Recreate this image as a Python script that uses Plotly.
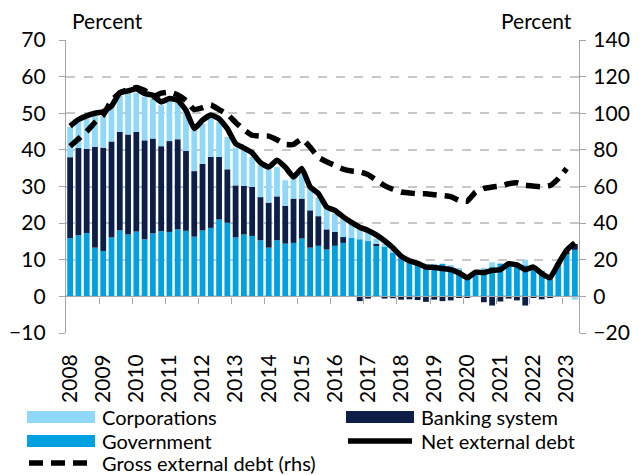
import plotly.graph_objects as go

# ---------------- data (quarterly, 2008Q1 .. 2023Q2) ----------------
quarters = list(range(62))
year_ticks = list(range(0, 62, 4))
year_labels = [str(y) for y in range(2008, 2024)]

government = [15.9, 16.7, 17.3, 13.3, 12.4, 16.1, 18.0, 16.9, 17.7, 15.6, 17.2, 17.8, 17.6, 18.3, 17.9, 16.3,
              18.0, 18.7, 21.0, 20.1, 16.1, 16.9, 16.5, 15.3, 13.3, 15.3, 14.4, 14.6, 15.8, 13.3, 13.8, 12.8,
              13.8, 14.6, 16.0, 15.6, 15.1, 13.9, 13.5, 12.1, 10.5, 9.6, 8.9, 8.5, 8.5, 8.9, 8.2, 7.3,
              5.3, 6.6, 7.1, 8.0, 8.9, 9.3, 8.9, 8.5, 7.8, 7.0, 5.3, 9.0, 11.7, 12.7]
banking = [22.1, 23.8, 23.0, 27.5, 28.2, 26.2, 26.9, 27.3, 27.2, 27.0, 25.9, 23.2, 24.8, 24.6, 21.8, 17.9,
           18.2, 19.4, 17.1, 14.6, 14.2, 13.3, 13.4, 11.8, 12.3, 12.0, 10.3, 12.1, 10.9, 10.2, 8.1, 5.5,
           3.8, 1.6, 0.0, -1.3, -0.6, 0.4, -0.6, -0.5, -0.9, -0.8, -1.0, -1.5, -0.9, -1.3, -1.1, -0.4,
           -0.2, 0.0, -1.6, -2.5, -1.4, -0.6, -1.1, -2.5, -0.4, -0.8, -0.4, 0.0, 0.5, 1.6]
corporations = [8.3, 7.6, 8.2, 8.4, 8.6, 10.2, 9.8, 11.2, 10.7, 11.9, 11.0, 11.2, 10.9, 10.7, 11.6, 11.2,
                11.0, 10.7, 9.6, 8.8, 10.3, 9.7, 8.2, 8.7, 9.0, 8.0, 7.0, 6.0, 6.8, 6.8, 5.2, 5.7,
                5.0, 5.0, 4.3, 3.3, 2.7, 1.5, 0.9, 0.5, 0.5, 0.3, 0.4, 0.4, 0.4, 0.0, 0.2, 0.2,
                0.0, 0.3, 0.7, 1.3, 0.2, 0.0, 0.2, 1.5, 0.2, 0.0, 0.0, 0.0, 0.0, -0.9]
net_external_debt = [46.5, 48.3, 49.3, 50.0, 50.4, 52.0, 55.6, 56.1, 56.7, 55.4, 54.9, 53.1, 54.0, 53.6, 50.8, 45.8,
                     48.1, 49.5, 48.5, 45.8, 41.7, 40.5, 39.2, 36.5, 35.3, 37.2, 35.3, 32.6, 34.9, 29.9, 28.1, 24.4,
                     23.5, 21.7, 20.2, 18.9, 18.0, 16.8, 15.2, 13.3, 11.0, 9.7, 9.0, 8.0, 7.9, 7.6, 7.3, 6.4,
                     5.1, 6.6, 6.5, 7.1, 7.3, 8.9, 8.6, 7.3, 8.0, 6.2, 5.1, 8.9, 12.6, 14.6]
gross_external_debt = [82, 86, 90, 95, 99, 107, 111, 113, 114, 112.5, 109, 111, 111.5, 110, 107, 102,
                       103, 104.5, 102, 99.5, 95, 91, 88, 87.5, 87.5, 85.5, 83, 83, 86, 81.5, 76, 73.5,
                       71.5, 69.5, 68.5, 68, 66.5, 63.5, 60.5, 58.5, 57, 56.5, 56, 56, 55.5, 55, 54.5, 52.5,
                       52, 57, 59, 59.7, 60.3, 61.5, 62, 60.7, 60.2, 59.8, 60.5, 64.3, 69.8]

C_CORP = "#8FD8F8"
C_GOV = "#00A0E1"
C_BANK = "#0E1F47"
AX = "#A6A6A6"
GRID = "#C8C8C8"
FONT = "Lato"

OFF = 8                      # page body margin in the browser
W, H = 641 - OFF, 475 - OFF
ML, MR, MT, MB = 66 - OFF, 62, 40 - OFF, 142
PW, PH = W - ML - MR, H - MT - MB


def px_x(x):                 # page pixel -> paper fraction
    return (x - OFF - ML) / PW


def px_y(y):
    return (H - MB - (y - OFF)) / PH


fig = go.Figure()
fig.add_trace(go.Bar(x=quarters, y=government, name="Government", marker_color=C_GOV,
                     marker_line_width=0, showlegend=False))
fig.add_trace(go.Bar(x=quarters, y=banking, name="Banking system", marker_color=C_BANK,
                     marker_line_width=0, showlegend=False))
fig.add_trace(go.Bar(x=quarters, y=corporations, name="Corporations", marker_color=C_CORP,
                     marker_line_width=0, showlegend=False))
fig.add_trace(go.Scatter(x=quarters, y=net_external_debt, name="Net external debt", mode="lines",
                         line=dict(color="black", width=5.5, shape="spline", smoothing=0.4),
                         showlegend=False))
fig.add_trace(go.Scatter(x=quarters[:len(gross_external_debt)], y=gross_external_debt,
                         name="Gross external debt (rhs)", mode="lines",
                         line=dict(color="black", width=5.5, dash="14px,8px", shape="spline", smoothing=0.4),
                         xaxis="x3", yaxis="y2", showlegend=False))

fig.update_layout(
    width=W, height=H, autosize=False,
    margin=dict(l=ML, r=MR, t=MT, b=MB, pad=0, autoexpand=False),
    paper_bgcolor="white", plot_bgcolor="white",
    barmode="relative", bargap=0.3,
    font=dict(family=FONT, size=21, color="black"),
    xaxis=dict(range=[-0.5, 61.5], tickvals=year_ticks, ticktext=year_labels, tickangle=-90,
               showgrid=False, zeroline=False, showline=False, ticks="", automargin=False,
               tickfont=dict(size=21), ticklabelstandoff=16),
    xaxis3=dict(range=[-0.5, 61.5], overlaying="x", anchor="free", position=0.125,
                tickvals=[v + 3.5 for v in year_ticks[:-1]], showticklabels=False, automargin=False,
                ticks="outside", ticklen=6, tickcolor=AX, tickwidth=1.3,
                showline=True, linecolor=AX, linewidth=1.3, showgrid=False, zeroline=False),
    yaxis=dict(range=[-10, 70], dtick=10, showgrid=True, gridcolor=GRID, griddash="dash", gridwidth=1.5,
               zeroline=False, showline=True, linecolor=AX, linewidth=1.3, automargin=False,
               ticks="outside", ticklen=6, tickcolor=AX, tickwidth=1.3,
               tickfont=dict(size=21), ticklabelstandoff=9),
    yaxis2=dict(range=[-20, 140], dtick=20, overlaying="y", side="right", showgrid=False,
                zeroline=False, showline=True, linecolor=AX, linewidth=1.3, automargin=False,
                ticks="outside", ticklen=6, tickcolor=AX, tickwidth=1.3,
                tickfont=dict(size=21), ticklabelstandoff=3),
)

# axis unit labels
fig.add_annotation(text="Percent", xref="paper", yref="paper", x=px_x(70), y=px_y(21),
                   xanchor="left", yanchor="middle", showarrow=False, font=dict(size=21))
fig.add_annotation(text="Percent", xref="paper", yref="paper", x=px_x(574), y=px_y(21),
                   xanchor="right", yanchor="middle", showarrow=False, font=dict(size=21))

# custom legend (wide swatches as in the original)
legend_items = [
    ("Corporations", "bar", C_CORP, 27, 417),
    ("Banking system", "bar", C_BANK, 346, 417),
    ("Government", "bar", C_GOV, 27, 441),
    ("Net external debt", "solid", "black", 346, 441),
    ("Gross external debt (rhs)", "dash", "black", 27, 463),
]
for label, kind, color, lx, ly in legend_items:
    if kind == "bar":
        fig.add_shape(type="rect", xref="paper", yref="paper",
                      x0=px_x(lx), x1=px_x(lx + 68), y0=px_y(ly + 6), y1=px_y(ly - 6),
                      fillcolor=color, line_width=0)
    else:
        fig.add_shape(type="line", xref="paper", yref="paper",
                      x0=px_x(lx + 2), x1=px_x(lx + 66), y0=px_y(ly), y1=px_y(ly),
                      line=dict(color=color, width=5.5, dash="solid" if kind == "solid" else "14px,8px"))
    fig.add_annotation(text=label, xref="paper", yref="paper", x=px_x(lx + 74), y=px_y(ly),
                       xanchor="left", yanchor="middle", showarrow=False, borderpad=0,
                       font=dict(size=20))

fig.write_html("out.html")
